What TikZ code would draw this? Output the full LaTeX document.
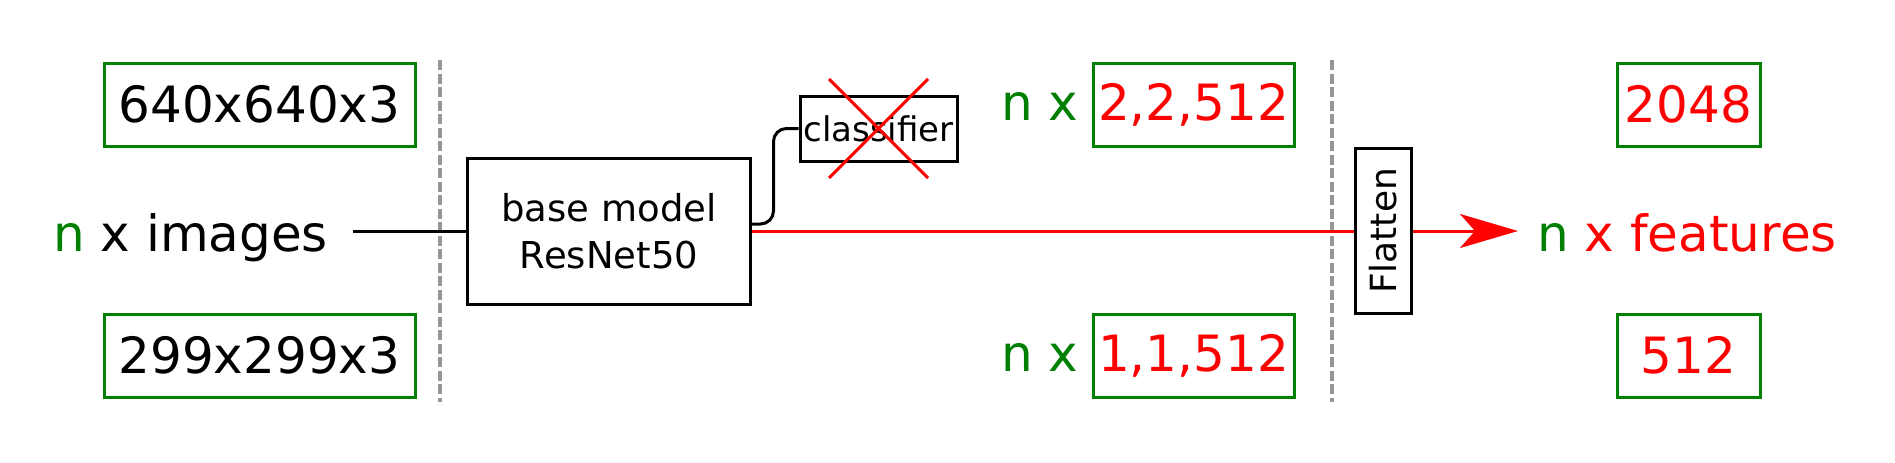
\documentclass[tikz,border=0pt]{standalone}
\usepackage{fontspec}
\usepackage{graphicx}
\usepackage{xcolor}
\setmainfont{DejaVu Sans}
\usetikzlibrary{arrows.meta, positioning, calc}
\definecolor{dimgreen}{RGB}{0, 128, 0}
\definecolor{featred}{RGB}{255, 0, 0}
\definecolor{sepgray}{RGB}{150, 150, 150}
\newcommand{\bigtext}{\fontsize{50}{60}\selectfont}
\newcommand{\midtext}{\fontsize{37}{47}\selectfont}
\newcommand{\smalltext}{\fontsize{34}{40}\selectfont}
\tikzset{
    shapebox/.style={rectangle, draw=dimgreen, line width=3pt, inner sep=0pt, minimum height=83pt, font=\bigtext},
    modelbox/.style={rectangle, draw=black, line width=3pt, inner sep=0pt, align=center, font=\midtext},
    sepline/.style={draw=sepgray, line width=3.5pt, dash pattern=on 10pt off 3.5pt},
    flow/.style={line width=3pt, draw=black},
    featflow/.style={line width=3pt, draw=featred},
    crossout/.style={draw=featred, line width=3pt},
    sidelabel/.style={inner sep=0pt, font=\bigtext}
}
\begin{document}
\begin{tikzpicture}[x=1pt, y=-1pt]

    \useasboundingbox (0,0) rectangle (1895,463);

    \node (in640) [shapebox, minimum width=311pt] at (259.5,104.5) {640x640x3};
    \node (in299) [shapebox, minimum width=311pt] at (259.5,355.5) {299x299x3};
    \node (images) [sidelabel, anchor=base west] at (53,251) {\textcolor{dimgreen}{n} x images};

    \node (base) [modelbox, minimum width=283pt, minimum height=146pt] at (609,231) {base model\\ResNet50};
    \node (clf)  [modelbox, font=\smalltext, minimum width=157pt, minimum height=65pt] at (878.5,128.5) {classifier};

    \node (f222) [shapebox, minimum width=201pt, text=featred] at (1193.5,104.5) {2,2,512};
    \node (f112) [shapebox, minimum width=201pt, text=featred] at (1193.5,355.5) {1,1,512};
    \node (nx222) [sidelabel, text=dimgreen, anchor=base east] at ([xshift=-13pt]f222.base west) {n x};
    \node (nx112) [sidelabel, text=dimgreen, anchor=base east] at ([xshift=-13pt]f112.base west) {n x};

    \node (flat) [modelbox, font=\fontsize{36}{44}\selectfont, minimum width=56pt, minimum height=165pt] at (1383,231) {\rotatebox{90}{Flatten}};

    \node (f2048) [shapebox, minimum width=143pt, text=featred] at (1688.5,104.5) {2048};
    \node (f512)  [shapebox, minimum width=143pt, text=featred] at (1688.5,355.5) {512};
    \node (features) [sidelabel, text=featred, anchor=base west] at (1537,251) {\textcolor{dimgreen}{n} x features};

    \coordinate (imgout) at (353,231);
    \coordinate (tip) at (1518,231);
    \coordinate (sepA top) at (440,60);
    \coordinate (sepA bot) at (440,402);
    \coordinate (sepB top) at (1332,60);
    \coordinate (sepB bot) at (1332,402);

    \draw [sepline] (sepA top) -- (sepA bot);
    \draw [sepline] (sepB top) -- (sepB bot);

    \draw [flow] (imgout) -- (base.west);
    \draw [flow, rounded corners=13pt] ($(base.east)+(0,-7)$) -| ($(clf.west)+(-25,0)$) -- (clf.west);

    % classifier is dropped
    \draw [crossout] ($(clf.center)+(-49.5,-49.5)$) -- ($(clf.center)+(49.5,49.5)$);
    \draw [crossout] ($(clf.center)+(49.5,-49.5)$) -- ($(clf.center)+(-49.5,49.5)$);

    \draw [featflow] (base.east) -- (flat.west);
    \draw [featflow, -{Stealth[length=58pt, width=34pt, inset=15pt]}] (flat.east) -- (tip);

\end{tikzpicture}
\end{document}
